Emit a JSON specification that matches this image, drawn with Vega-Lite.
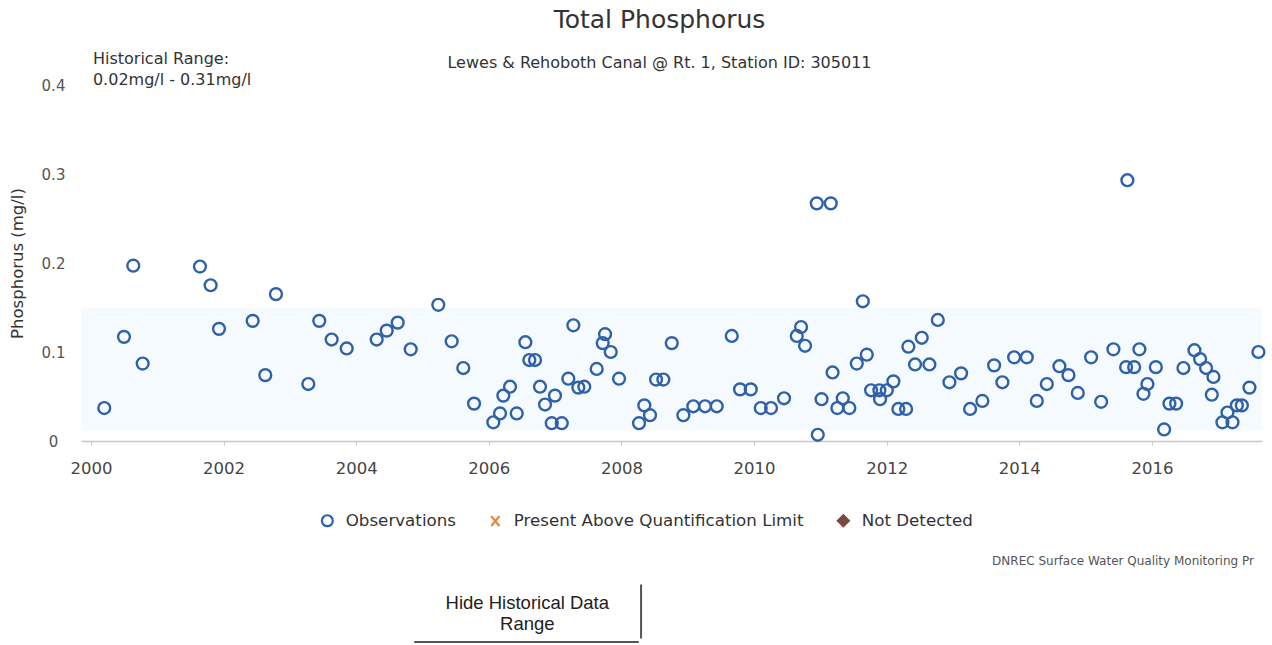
{
  "$schema": "https://vega.github.io/schema/vega-lite/v6.json",
  "autosize": {"type": "none"},
  "width": 1181,
  "height": 356,
  "padding": {"left": 81, "top": 85, "right": 10, "bottom": 204},
  "background": "white",
  "config": {"view": {"stroke": null}, "font": "DejaVu Sans"},
  "title": {
    "text": "Total Phosphorus",
    "subtitle": "Lewes & Rehoboth Canal @ Rt. 1, Station ID: 305011",
    "font": "DejaVu Sans",
    "fontSize": 25,
    "fontWeight": "normal",
    "color": "#333333",
    "subtitleFont": "DejaVu Sans",
    "subtitleFontSize": 16,
    "subtitleColor": "#333333",
    "subtitlePadding": 22,
    "offset": -20,
    "anchor": "middle",
    "dx": -12
  },
  "datasets": {
    "obs": [
      {"year": 2000.201, "value": 0.037}, {"year": 2000.498, "value": 0.117}, {"year": 2000.638, "value": 0.197}, {"year": 2000.780, "value": 0.087},
      {"year": 2001.644, "value": 0.196}, {"year": 2001.805, "value": 0.175}, {"year": 2001.931, "value": 0.126},
      {"year": 2002.439, "value": 0.135}, {"year": 2002.629, "value": 0.074}, {"year": 2002.790, "value": 0.165},
      {"year": 2003.278, "value": 0.064}, {"year": 2003.443, "value": 0.135}, {"year": 2003.630, "value": 0.114}, {"year": 2003.857, "value": 0.104},
      {"year": 2004.309, "value": 0.114}, {"year": 2004.460, "value": 0.124}, {"year": 2004.626, "value": 0.133}, {"year": 2004.822, "value": 0.103},
      {"year": 2005.238, "value": 0.153}, {"year": 2005.440, "value": 0.112}, {"year": 2005.615, "value": 0.082}, {"year": 2005.777, "value": 0.042},
      {"year": 2006.068, "value": 0.021}, {"year": 2006.169, "value": 0.031}, {"year": 2006.219, "value": 0.051}, {"year": 2006.320, "value": 0.061},
      {"year": 2006.421, "value": 0.031}, {"year": 2006.551, "value": 0.111}, {"year": 2006.611, "value": 0.091}, {"year": 2006.697, "value": 0.091},
      {"year": 2006.772, "value": 0.061}, {"year": 2006.848, "value": 0.041}, {"year": 2006.949, "value": 0.020}, {"year": 2006.998, "value": 0.051},
      {"year": 2007.100, "value": 0.020}, {"year": 2007.199, "value": 0.070}, {"year": 2007.275, "value": 0.130}, {"year": 2007.350, "value": 0.060},
      {"year": 2007.440, "value": 0.061}, {"year": 2007.627, "value": 0.081}, {"year": 2007.718, "value": 0.110}, {"year": 2007.753, "value": 0.120},
      {"year": 2007.839, "value": 0.100}, {"year": 2007.964, "value": 0.070},
      {"year": 2008.265, "value": 0.020}, {"year": 2008.345, "value": 0.040}, {"year": 2008.431, "value": 0.029}, {"year": 2008.522, "value": 0.069},
      {"year": 2008.632, "value": 0.069}, {"year": 2008.759, "value": 0.110}, {"year": 2008.934, "value": 0.029},
      {"year": 2009.084, "value": 0.039}, {"year": 2009.261, "value": 0.039}, {"year": 2009.437, "value": 0.039}, {"year": 2009.664, "value": 0.118},
      {"year": 2009.789, "value": 0.058}, {"year": 2009.950, "value": 0.058},
      {"year": 2010.101, "value": 0.037}, {"year": 2010.256, "value": 0.037}, {"year": 2010.452, "value": 0.048}, {"year": 2010.644, "value": 0.118},
      {"year": 2010.709, "value": 0.128}, {"year": 2010.769, "value": 0.107}, {"year": 2010.946, "value": 0.267}, {"year": 2010.961, "value": 0.007},
      {"year": 2011.018, "value": 0.047}, {"year": 2011.157, "value": 0.267}, {"year": 2011.184, "value": 0.077}, {"year": 2011.256, "value": 0.037},
      {"year": 2011.338, "value": 0.048}, {"year": 2011.437, "value": 0.037}, {"year": 2011.549, "value": 0.087}, {"year": 2011.640, "value": 0.157},
      {"year": 2011.700, "value": 0.097}, {"year": 2011.765, "value": 0.057}, {"year": 2011.890, "value": 0.057}, {"year": 2011.900, "value": 0.047},
      {"year": 2012.002, "value": 0.057}, {"year": 2012.101, "value": 0.067}, {"year": 2012.176, "value": 0.036}, {"year": 2012.293, "value": 0.036},
      {"year": 2012.327, "value": 0.106}, {"year": 2012.428, "value": 0.086}, {"year": 2012.529, "value": 0.116}, {"year": 2012.644, "value": 0.086},
      {"year": 2012.771, "value": 0.136}, {"year": 2012.946, "value": 0.066},
      {"year": 2013.122, "value": 0.076}, {"year": 2013.258, "value": 0.036}, {"year": 2013.443, "value": 0.045}, {"year": 2013.620, "value": 0.085},
      {"year": 2013.745, "value": 0.066}, {"year": 2013.922, "value": 0.094},
      {"year": 2014.113, "value": 0.094}, {"year": 2014.264, "value": 0.045}, {"year": 2014.415, "value": 0.064}, {"year": 2014.605, "value": 0.084},
      {"year": 2014.741, "value": 0.074}, {"year": 2014.882, "value": 0.054},
      {"year": 2015.083, "value": 0.094}, {"year": 2015.234, "value": 0.044}, {"year": 2015.419, "value": 0.103}, {"year": 2015.611, "value": 0.083},
      {"year": 2015.630, "value": 0.293}, {"year": 2015.732, "value": 0.083}, {"year": 2015.811, "value": 0.103}, {"year": 2015.872, "value": 0.053},
      {"year": 2015.932, "value": 0.064},
      {"year": 2016.059, "value": 0.083}, {"year": 2016.184, "value": 0.013}, {"year": 2016.264, "value": 0.042}, {"year": 2016.365, "value": 0.042},
      {"year": 2016.475, "value": 0.082}, {"year": 2016.641, "value": 0.102}, {"year": 2016.727, "value": 0.092}, {"year": 2016.817, "value": 0.082},
      {"year": 2016.903, "value": 0.052}, {"year": 2016.928, "value": 0.072},
      {"year": 2017.063, "value": 0.021}, {"year": 2017.139, "value": 0.032}, {"year": 2017.215, "value": 0.021}, {"year": 2017.281, "value": 0.040},
      {"year": 2017.356, "value": 0.040}, {"year": 2017.471, "value": 0.060}, {"year": 2017.606, "value": 0.100}
    ]
  },
  "layer": [
    {
      "data": {"values": [{"x1": 1999.85, "x2": 2017.66, "lo": 0.012, "hi": 0.15}]},
      "mark": {"type": "rect", "color": "#f5fafe"},
      "encoding": {
        "x": {"field": "x1", "type": "quantitative"},
        "x2": {"field": "x2"},
        "y": {"field": "lo", "type": "quantitative"},
        "y2": {"field": "hi"}
      }
    },
    {
      "data": {"name": "obs"},
      "mark": {"type": "point", "filled": true, "opacity": 1, "strokeWidth": 2.4, "size": 140},
      "encoding": {
        "x": {
          "field": "year", "type": "quantitative",
          "scale": {"domain": [1999.85, 2017.66], "nice": false, "zero": false},
          "axis": {
            "title": null, "values": [2000, 2002, 2004, 2006, 2008, 2010, 2012, 2014, 2016],
            "format": "d", "grid": false, "labelFontSize": 16.5, "labelColor": "#444444",
            "labelFont": "DejaVu Sans", "domainColor": "#c8c8c8", "domainWidth": 1.5,
            "tickColor": "#c8c8c8", "tickSize": 4, "labelPadding": 15
          }
        },
        "y": {
          "field": "value", "type": "quantitative",
          "scale": {"domain": [0, 0.4], "nice": false},
          "axis": {
            "title": "Phosphorus (mg/l)", "values": [0, 0.1, 0.2, 0.3, 0.4],
            "labelExpr": "datum.value == 0 ? '0' : format(datum.value, '.1f')",
            "grid": false, "domain": false, "ticks": false, "tickSize": 0,
            "labelAlign": "center", "labelPadding": 28, "labelFontSize": 15,
            "labelColor": "#555555", "labelFont": "DejaVu Sans",
            "titleFont": "DejaVu Sans", "titleFontSize": 16.5, "titleFontWeight": "normal",
            "titleColor": "#333333", "titleX": -64, "titleY": 178, "titleAngle": -90,
            "titleAlign": "center", "titleBaseline": "middle"
          }
        },
        "shape": {
          "datum": "Observations",
          "type": "nominal",
          "scale": {
            "domain": ["Observations", "Present Above Quantification Limit", "Not Detected"],
            "range": ["circle", "M-0.75,-0.9L0.75,0.9M0.75,-0.9L-0.75,0.9", "diamond"]
          },
          "legend": {
            "title": null, "orient": "none", "direction": "horizontal",
            "legendX": 238, "legendY": 427, "labelFontSize": 16.7, "labelFont": "DejaVu Sans",
            "labelColor": "#333333", "labelLimit": 500, "symbolSize": 120, "symbolStrokeWidth": 2.2,
            "columnPadding": 29, "labelOffset": 10
          }
        },
        "stroke": {
          "datum": "Observations",
          "type": "nominal",
          "scale": {
            "domain": ["Observations", "Present Above Quantification Limit", "Not Detected"],
            "range": ["#3060a8", "#e8843c", "#7a4a42"]
          }
        },
        "fill": {
          "datum": "Observations",
          "type": "nominal",
          "scale": {
            "domain": ["Observations", "Present Above Quantification Limit", "Not Detected"],
            "range": ["transparent", "#e8843c", "#7a4a42"]
          }
        }
      }
    },
    {
      "data": {"values": [
        {"year": 2000.03, "value": 0.429, "text": "Historical Range:"},
        {"year": 2000.03, "value": 0.406, "text": "0.02mg/l - 0.31mg/l"}
      ]},
      "mark": {"type": "text", "align": "left", "baseline": "middle", "fontSize": 16, "font": "DejaVu Sans", "color": "#333333", "clip": false},
      "encoding": {
        "x": {"field": "year", "type": "quantitative"},
        "y": {"field": "value", "type": "quantitative"},
        "text": {"field": "text"}
      }
    },
    {
      "data": {"values": [{"year": 2013.59, "value": -0.1348, "text": "DNREC Surface Water Quality Monitoring Pr"}]},
      "mark": {"type": "text", "align": "left", "baseline": "middle", "fontSize": 12, "font": "DejaVu Sans", "color": "#555555"},
      "encoding": {
        "x": {"field": "year", "type": "quantitative"},
        "y": {"field": "value", "type": "quantitative"},
        "text": {"field": "text"}
      }
    },
    {
      "data": {"values": [
        {"year": 2006.58, "value": -0.182, "text": "Hide Historical Data"},
        {"year": 2006.58, "value": -0.2056, "text": "Range"}
      ]},
      "mark": {"type": "text", "align": "center", "baseline": "middle", "fontSize": 18.5, "font": "Liberation Sans", "color": "#222222"},
      "encoding": {
        "x": {"field": "year", "type": "quantitative"},
        "y": {"field": "value", "type": "quantitative"},
        "text": {"field": "text"}
      }
    },
    {
      "data": {"values": [
        {"x1": 2004.887, "x2": 2008.25, "y1": -0.2258, "y2": -0.2258},
        {"x1": 2008.296, "x2": 2008.296, "y1": -0.162, "y2": -0.221}
      ]},
      "mark": {"type": "rule", "color": "#555555", "strokeWidth": 2, "strokeCap": "round"},
      "encoding": {
        "x": {"field": "x1", "type": "quantitative"},
        "x2": {"field": "x2"},
        "y": {"field": "y1", "type": "quantitative"},
        "y2": {"field": "y2"}
      }
    }
  ]
}
